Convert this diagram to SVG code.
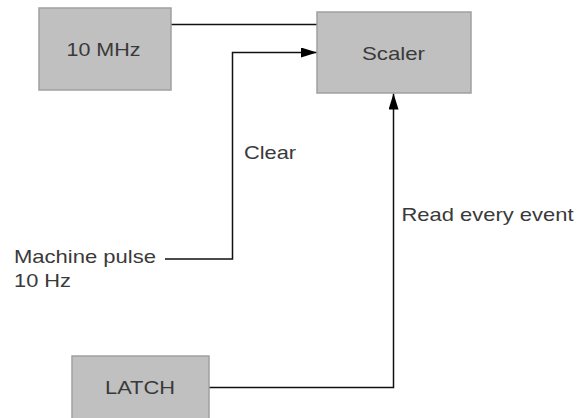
<svg xmlns="http://www.w3.org/2000/svg" width="579" height="418" viewBox="0 0 579 418">
<style>
.box{fill:#c0c0c0;stroke:#a0a0a0;stroke-width:1.5}
.lbl{font-family:"Liberation Sans",Arial,sans-serif;font-size:18.5px;fill:#3a3a3a}
.wire{fill:none;stroke:#111;stroke-width:1.5}
</style>
<defs>
<marker id="arr" markerUnits="userSpaceOnUse" markerWidth="17" markerHeight="11" refX="16" refY="5" orient="auto">
<path d="M0,0 L16,5 L0,10 Z" fill="#000"/>
</marker>
</defs>
<rect width="579" height="418" fill="#fff"/>
<g id="connectors">
<path class="wire" d="M171,24.5 H317"/>
<path class="wire" d="M165,259 H232.5 V52.5 H317" marker-end="url(#arr)"/>
<path class="wire" d="M209,387.5 H393.5 V93.5" marker-end="url(#arr)"/>
</g>
<g id="n10mhz">
<rect class="box" x="39" y="8" width="132" height="82"/>
<text class="lbl" x="66.5" y="56" textLength="74" lengthAdjust="spacingAndGlyphs">10 MHz</text>
</g>
<g id="scaler">
<rect class="box" x="317" y="12" width="154" height="81"/>
<text class="lbl" x="362" y="60" textLength="63" lengthAdjust="spacingAndGlyphs">Scaler</text>
</g>
<g id="latch">
<rect class="box" x="72" y="356" width="137" height="70"/>
<text class="lbl" x="105" y="394" textLength="70" lengthAdjust="spacingAndGlyphs">LATCH</text>
</g>
<g id="machine">
<text class="lbl" x="14" y="263.3" textLength="142" lengthAdjust="spacingAndGlyphs">Machine pulse</text>
<text class="lbl" x="14" y="287" textLength="57" lengthAdjust="spacingAndGlyphs">10 Hz</text>
</g>
<g id="labels">
<text class="lbl" x="244" y="158.5" textLength="52" lengthAdjust="spacingAndGlyphs">Clear</text>
<text class="lbl" x="401.5" y="220.7" textLength="172" lengthAdjust="spacingAndGlyphs">Read every event</text>
</g>
</svg>
